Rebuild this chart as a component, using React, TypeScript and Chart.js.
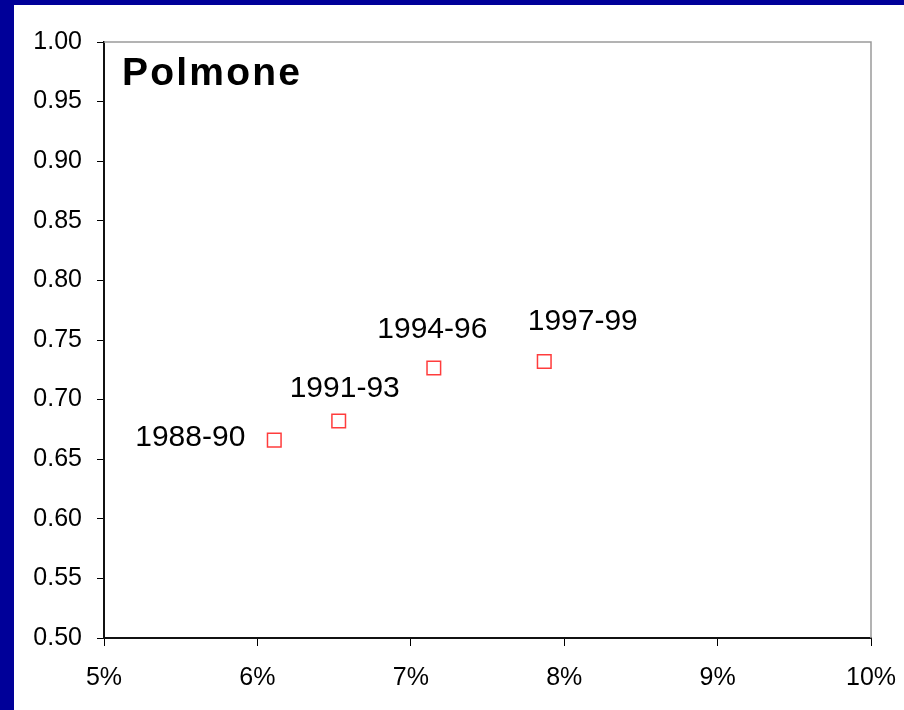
import React, { useEffect, useRef } from "react";
import { Chart, registerables } from "chart.js";

Chart.register(...registerables);

const title = "Polmone";
const periods = ["1988-90", "1991-93", "1994-96", "1997-99"];
const xValues = [6.11, 6.53, 7.15, 7.87];
const yValues = [0.666, 0.682, 0.7265, 0.732];
const xTickMin = 5;
const xTickMax = 10;
const yTickMin = 0.5;
const yTickMax = 1.0;

// label offsets (px) relative to each point, style only
const labelDx = [-84, 6, -1.5, 38.5];
const labelDy = [-2, -32, -38, -40];

const FONT = "'Liberation Sans', Arial, sans-serif";

const bgPlugin = {
  id: "bg",
  beforeDraw(chart: any) {
    const { ctx, width, height } = chart;
    ctx.save();
    ctx.fillStyle = "#000099";
    ctx.fillRect(0, 0, width, height);
    ctx.fillStyle = "#ffffff";
    ctx.fillRect(14, 5, width - 14, height - 5);
    ctx.restore();
  },
  beforeDatasetsDraw(chart: any) {
    const { ctx, chartArea } = chart;
    ctx.save();
    ctx.strokeStyle = "#9a9a9a";
    ctx.lineWidth = 1.5;
    ctx.beginPath();
    ctx.moveTo(chartArea.left, chartArea.top);
    ctx.lineTo(chartArea.right, chartArea.top);
    ctx.lineTo(chartArea.right, chartArea.bottom);
    ctx.stroke();
    ctx.restore();
  },
  afterDraw(chart: any) {
    const { ctx } = chart;
    ctx.save();
    ctx.fillStyle = "#000";
    ctx.font = `bold 39px ${FONT}`;
    ctx.textAlign = "left";
    ctx.textBaseline = "alphabetic";
    (ctx as any).letterSpacing = "2.2px";
    ctx.fillText(title, 122, 85);
    (ctx as any).letterSpacing = "0px";
    const meta = chart.getDatasetMeta(0);
    ctx.font = `30px ${FONT}`;
    ctx.textAlign = "center";
    ctx.textBaseline = "middle";
    meta.data.forEach((pt: any, i: number) => {
      ctx.fillText(periods[i], pt.x + labelDx[i], pt.y + labelDy[i]);
    });
    ctx.restore();
  },
};

export default function App() {
  const ref = useRef<HTMLCanvasElement | null>(null);
  useEffect(() => {
    document.body.style.margin = "0";
    const chart = new Chart(ref.current as HTMLCanvasElement, {
      type: "scatter",
      data: {
        datasets: [
          {
            data: xValues.map((x, i) => ({ x, y: yValues[i] })),
            pointStyle: "rect",
            pointRadius: 9.6,
            pointHoverRadius: 9.6,
            borderColor: "rgb(255,60,60)",
            backgroundColor: "rgba(255,255,255,0)",
            borderWidth: 1.5,
          },
        ],
      },
      options: {
        animation: false,
        responsive: false,
        devicePixelRatio: 1,
        events: [],
        layout: { padding: { left: 0, top: 42, right: 33, bottom: 0 } },
        plugins: {
          legend: { display: false },
          tooltip: { enabled: false },
          title: { display: false },
        },
        scales: {
          x: {
            type: "linear",
            min: xTickMin,
            max: xTickMax,
            afterFit(scale: any) {
              scale.height = 72;
              scale.paddingLeft = 0;
              scale.paddingRight = 0;
            },
            ticks: {
              stepSize: 1,
              color: "#000",
              font: { family: FONT, size: 25 },
              padding: 17,
              maxRotation: 0,
              callback: (v: any) => `${v}%`,
            },
            grid: {
              drawOnChartArea: false,
              drawTicks: true,
              tickLength: 8,
              color: "#000",
              lineWidth: 1,
            },
            border: { display: true, color: "#111", width: 2 },
          },
          y: {
            type: "linear",
            min: yTickMin,
            max: yTickMax,
            afterFit(scale: any) {
              scale.width = 104;
              scale.paddingTop = 0;
              scale.paddingBottom = 0;
            },
            ticks: {
              stepSize: 0.05,
              color: "#000",
              font: { family: FONT, size: 25 },
              padding: 15,
              callback: (v: any) => Number(v).toFixed(2),
            },
            grid: {
              drawOnChartArea: false,
              drawTicks: true,
              tickLength: 7,
              color: "#000",
              lineWidth: 1,
            },
            border: { display: true, color: "#111", width: 2 },
          },
        },
      },
      plugins: [bgPlugin],
    } as any);
    return () => chart.destroy();
  }, []);
  return (
    <div style={{ position: "absolute", left: 0, top: 0, width: 904, height: 710 }}>
      <canvas ref={ref} width={904} height={710} />
    </div>
  );
}
